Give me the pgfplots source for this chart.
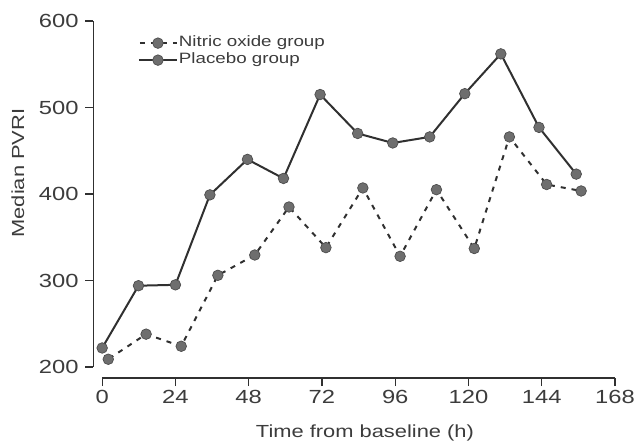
\documentclass[border=0pt]{standalone}
\usepackage{pgfplots}
\pgfplotsset{compat=1.18}
\usepackage{fontspec}
\setmainfont[FakeStretch=1.25]{Liberation Sans}
\definecolor{txt}{HTML}{3C3C3C}
\definecolor{ln}{HTML}{303030}
\definecolor{mk}{HTML}{6E6E6E}
\begin{document}
\begin{tikzpicture}
\useasboundingbox (-93pt,-63pt) rectangle (543pt,378pt);
\begin{axis}[
  scale only axis, width=522pt, height=357pt,
  xmin=-3, xmax=168, ymin=187.3, ymax=600,
  axis x line*=bottom, axis y line*=left,
  axis line style={draw=none},
  xtick={0,24,...,168}, ytick={200,300,...,600},
  tick align=outside, major tick length=8pt,
  tick style={ln, line width=1.3pt},
  /pgf/number format/assume math mode=true,
  ticklabel style={font=\fontsize{19}{22}\selectfont, text=txt},
  yticklabel style={xshift=-3pt},
  xticklabel style={yshift=-1pt},
  xlabel={Time from baseline (h)}, ylabel={Median PVRI},
  label style={font=\fontsize{17.5}{20}\selectfont, text=txt},
  xlabel style={at={(axis description cs:0.521,-0.154)}, anchor=center},
  ylabel style={at={(axis description cs:-0.1437,0.574)}, anchor=center},
  legend style={at={(axis description cs:0.080,0.968)}, anchor=north west, draw=none, fill=none,
    font=\fontsize{15}{17}\selectfont, text=txt, row sep=0pt,
    nodes={inner sep=1pt, text height=11pt, text depth=4pt}},
  legend cell align=left,
  legend image code/.code={\draw[mark repeat=2,mark phase=2,#1] plot coordinates {(0pt,0pt) (19pt,0pt) (38pt,0pt)};},
]
\addplot[ln, line width=2pt, dash pattern=on 5pt off 6pt, dash phase=-1pt, mark=*, mark size=5.3pt,
  mark options={solid, fill=mk, draw=mk!70!black, line width=0.7pt}]
  coordinates {(2,209) (14.4,238) (25.9,224) (37.9,306) (50,329.5) (61.2,385) (73.3,338) (85.4,407) (97.6,328) (109.5,405) (121.9,337) (133.4,466) (145.6,411) (156.9,403.5)};
\addlegendentry{Nitric oxide group}
\addplot[ln, line width=2pt, mark=*, mark size=5.3pt,
  mark options={solid, fill=mk, draw=mk!70!black, line width=0.7pt}]
  coordinates {(0,222) (11.9,294) (24,295) (35.3,399) (47.6,440) (59.4,418) (71.4,515) (83.7,470) (95.2,459) (107.3,466) (118.8,516) (130.6,562) (143.1,477) (155.3,423)};
\addlegendentry{Placebo group}
\draw[ln, line width=1.4pt] (axis cs:-3,200) -- (axis cs:-3,600);
\draw[ln, line width=1.4pt] (axis cs:0,187.3) -- (axis cs:168,187.3);
\end{axis}
\end{tikzpicture}
\end{document}
